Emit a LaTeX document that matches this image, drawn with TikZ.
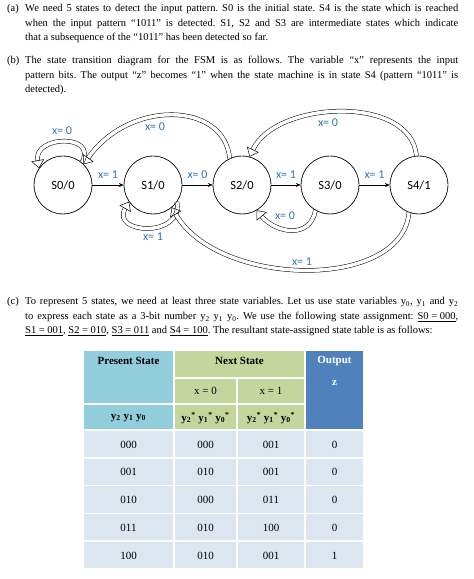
\documentclass[tikz,border=0pt]{standalone}
\usepackage{fontspec}
\setmainfont{Liberation Serif}
\newfontfamily\calfont{Carlito}
\usetikzlibrary{arrows.meta}
\frenchspacing
\definecolor{lblblue}{RGB}{46,117,182}
\definecolor{psblue}{RGB}{146,205,220}
\definecolor{nsgreen}{RGB}{195,214,155}
\definecolor{outblue}{RGB}{79,129,189}
\definecolor{cellblue}{RGB}{220,230,241}
\tikzset{
  state/.style={draw, circle, minimum size=58pt, inner sep=0pt, font=\calfont\fontsize{12.5}{14}\selectfont},
  lbl/.style={text=lblblue, inner sep=0pt, font=\calfont\fontsize{12}{14}\selectfont},
  trans/.style={-{Stealth[length=5pt,width=4pt]}, line width=0.6pt},
  hollow/.style={double, double distance=3.5pt, line width=0.5pt, -{Triangle[open,length=8pt,width=13pt]}},
  para/.style={anchor=base west, inner sep=0pt, font=\fontsize{10.5}{14.5}\selectfont},
  cell/.style={draw=white, line width=1.5pt},
  hdr/.style={inner sep=0pt, font=\bfseries\fontsize{11}{13}\selectfont},
  dat/.style={inner sep=0pt, font=\fontsize{11}{13}\selectfont},
}
\begin{document}
\begin{tikzpicture}[x=1pt,y=1pt]
\useasboundingbox (0,0) rectangle (474,579);
% text above the diagram
\node[para] (pa) at (7,567) {(a)};
\node[para] (ta) at (25,567) {\parbox[t]{433pt}{We need 5 states to detect the input pattern. S0 is the initial state. S4 is the state which is reached\linebreak when the input pattern “1011” is detected. S1, S2 and S3 are intermediate states which indicate\linebreak that a subsequence of the “1011” has been detected so far.}};
\node[para] (pb) at (7,515) {(b)};
\node[para] (tb) at (25,515) {\parbox[t]{433pt}{The state transition diagram for the FSM is as follows. The variable “x” represents the input\linebreak pattern bits. The output “z” becomes “1” when the state machine is in state S4 (pattern “1011” is\linebreak detected).}};
% states
\node[state] (s0) at (63,394) {S0/0};
\node[state] (s1) at (153,394) {S1/0};
\node[state] (s2) at (242,394) {S2/0};
\node[state] (s3) at (330,394) {S3/0};
\node[state] (s4) at (419,394) {S4/1};
\draw[trans] (s0) -- node[lbl, above=6pt] (l01) {x= 1} (s1);
\draw[trans] (s1) -- node[lbl, above=6pt] (l12) {x= 0} (s2);
\draw[trans] (s2) -- node[lbl, above=6pt] (l23) {x= 1} (s3);
\draw[trans] (s3) -- node[lbl, above=6pt] (l34) {x= 1} (s4);
% curved block arrows
\draw[hollow] (s0.50) to[out=60,in=100,looseness=2] (s0.145);
\draw[hollow] (s2.115) to[out=95,in=55,out looseness=1,in looseness=1.4] (s0.45);
\draw[hollow] (s4.95) to[out=95,in=65,looseness=0.95] (s2.75);
\draw[hollow] (s1.-35) to[out=-80,in=-120,looseness=2] (s1.-145);
\draw[hollow] (s3.-120) to[out=-100,in=-50,looseness=1.3] (s2.-60);
\draw[hollow] (s4.-110) to[out=-95,in=-60,out looseness=0.85,in looseness=1] (s1.-50);
% close the tails on the circles again
\foreach \s in {s0,s1,s2,s3,s4}
  \draw (\s.center) circle (29pt);
\node[lbl] (l00) at (62,448) {x= 0};
\node[lbl] (l20) at (155,452) {x= 0};
\node[lbl] (l42) at (328,456) {x= 0};
\node[lbl] (l11) at (153,342) {x= 1};
\node[lbl] (l32) at (285,363) {x= 0};
\node[lbl] (l41) at (302,317) {x= 1};
% text (c)
\node[para] (pc) at (7,274) {(c)};
\node[para] (tc) at (25,274) {\parbox[t]{433pt}{To represent 5 states, we need at least three state variables. Let us use state variables y\textsubscript{0}, y\textsubscript{1} and y\textsubscript{2}\linebreak to express each state as a 3-bit number y\textsubscript{2} y\textsubscript{1} y\textsubscript{0}. We use the following state assignment: \underline{S0 = 000},\linebreak \underline{S1 = 001}, \underline{S2 = 010}, \underline{S3 = 011} and \underline{S4 = 100}. The resultant state-assigned state table is as follows:}};
% table head
\filldraw[cell, fill=psblue] (83,175) rectangle (174,229);
\filldraw[cell, fill=psblue] (83,149) rectangle (174,175);
\filldraw[cell, fill=nsgreen] (174,201) rectangle (305,229);
\filldraw[cell, fill=nsgreen] (174,175) rectangle (237,201);
\filldraw[cell, fill=nsgreen] (237,175) rectangle (305,201);
\filldraw[cell, fill=nsgreen] (174,149) rectangle (237,175);
\filldraw[cell, fill=nsgreen] (237,149) rectangle (305,175);
\filldraw[cell, fill=outblue] (305,149) rectangle (364,229);
\node[hdr] (hps) at (128.5,218) {Present State};
\node[hdr] (hns) at (239.5,218) {Next State};
\node[hdr, text=white] (hout) at (334.5,218) {Output};
\node[dat] (hx0) at (205.5,188) {x = 0};
\node[dat] (hx1) at (271,188) {x = 1};
\node[hdr, text=white] (hz) at (334.5,196) {z};
\node[hdr] (hy) at (128.5,161) {y\textsubscript{2} y\textsubscript{1} y\textsubscript{0}};
\node[hdr] (hy0) at (205.5,161) {y\textsubscript{2}\textsuperscript{*} y\textsubscript{1}\textsuperscript{*} y\textsubscript{0}\textsuperscript{*}};
\node[hdr] (hy1) at (271,161) {y\textsubscript{2}\textsuperscript{*} y\textsubscript{1}\textsuperscript{*} y\textsubscript{0}\textsuperscript{*}};
% table body
\foreach \p/\a/\b/\z [count=\i] in {000/000/001/0, 001/010/001/0, 010/000/011/0, 011/010/100/0, 100/010/001/1} {
  \pgfmathsetmacro\yt{149-(\i-1)*27.8}
  \pgfmathsetmacro\yb{\yt-27.8}
  \filldraw[cell, fill=cellblue] (83,\yb) rectangle (174,\yt);
  \filldraw[cell, fill=cellblue] (174,\yb) rectangle (237,\yt);
  \filldraw[cell, fill=cellblue] (237,\yb) rectangle (305,\yt);
  \filldraw[cell, fill=cellblue] (305,\yb) rectangle (364,\yt);
  \node[dat] (p\i) at (128.5,\yt-14.5) {\p};
  \node[dat] (a\i) at (205.5,\yt-14.5) {\a};
  \node[dat] (b\i) at (271,\yt-14.5) {\b};
  \node[dat] (z\i) at (334.5,\yt-14.5) {\z};
}
\end{tikzpicture}
\end{document}
